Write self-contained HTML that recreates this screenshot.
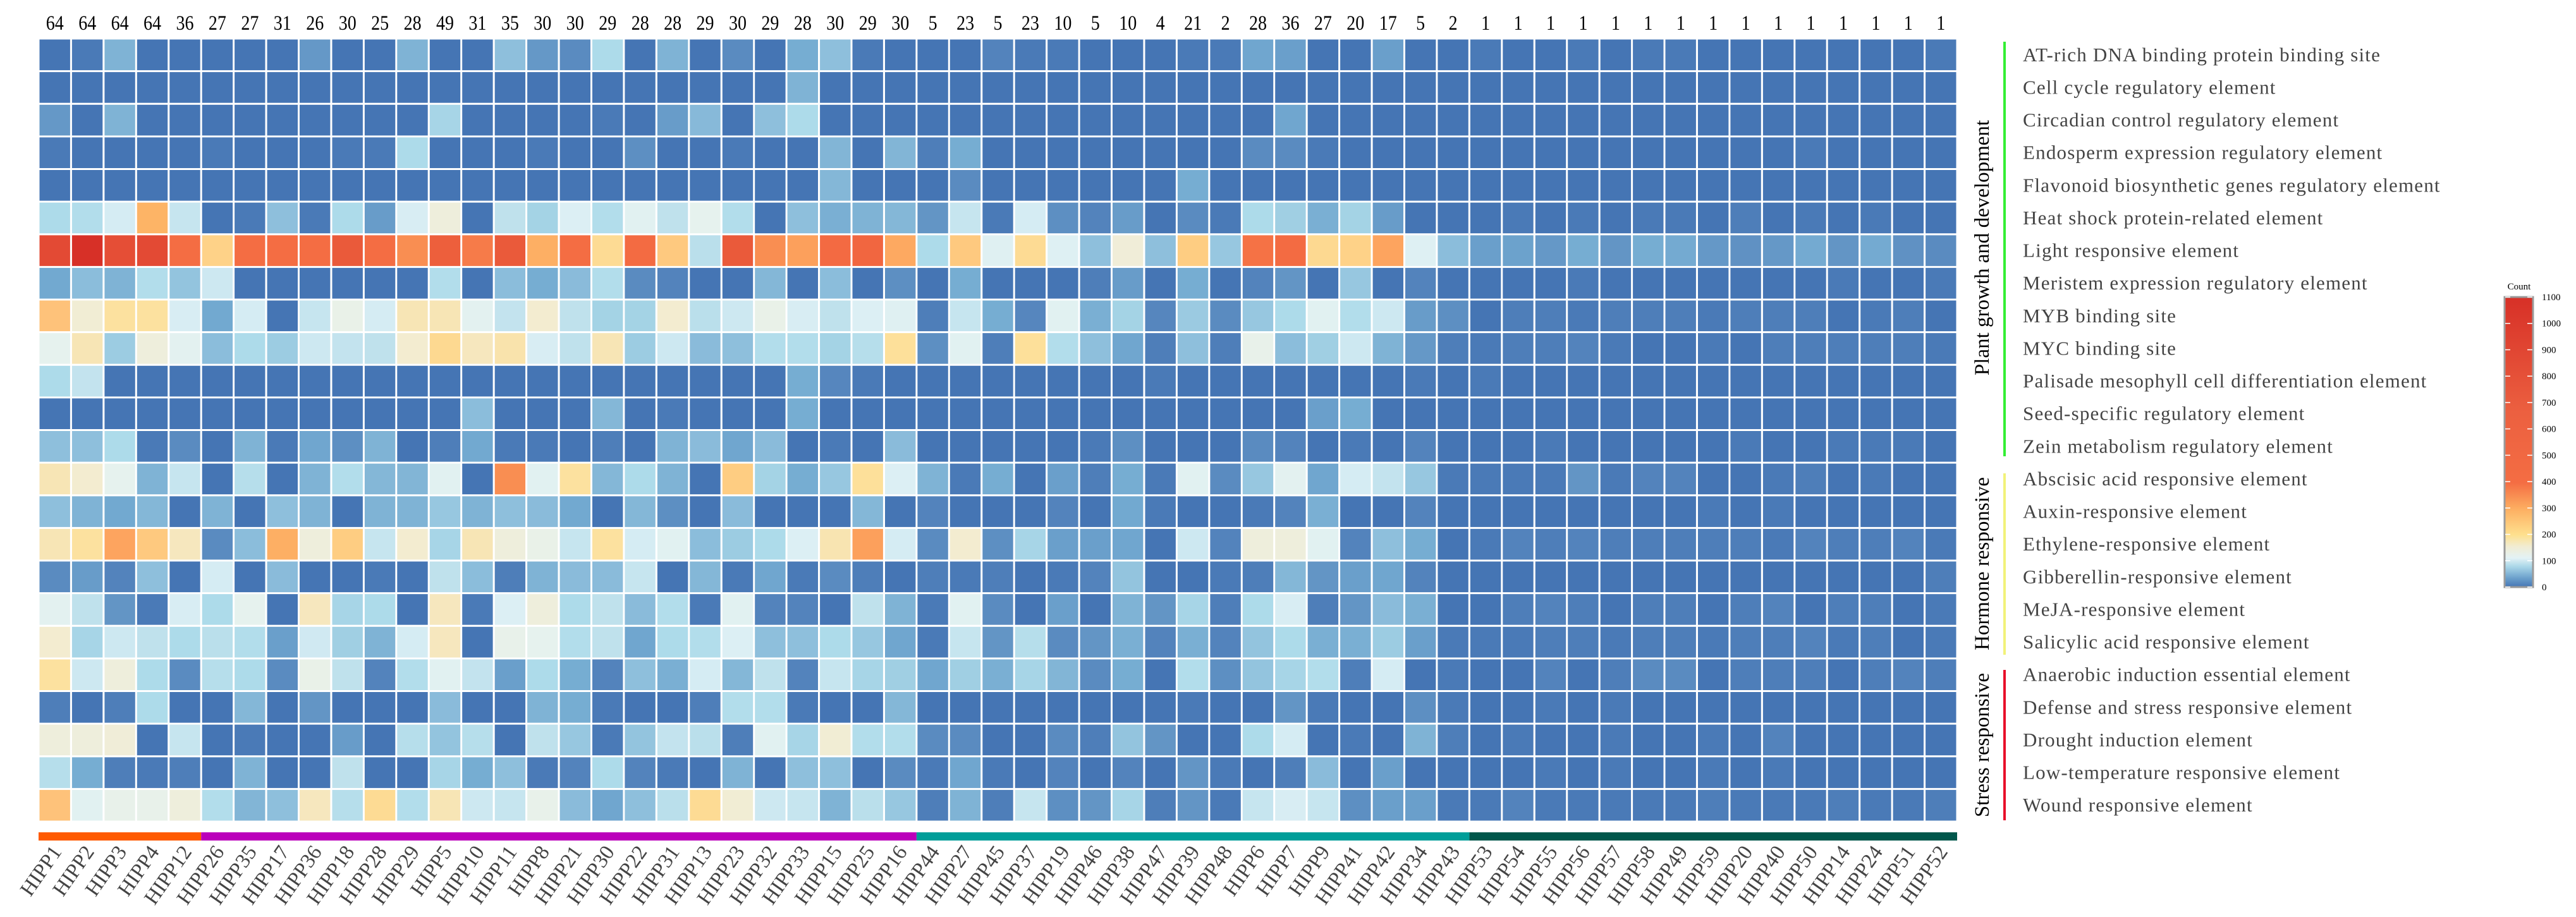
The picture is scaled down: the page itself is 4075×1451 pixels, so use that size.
<!DOCTYPE html>
<html><head><meta charset="utf-8"><title>HIPP cis-element heatmap</title>
<style>
html,body{margin:0;padding:0;background:#fff;}
svg{display:block;}
text{font-family:"Liberation Serif",serif;}
</style></head>
<body>
<svg id="chart" width="4075" height="1451" viewBox="0 0 4075 1451" xmlns="http://www.w3.org/2000/svg">
<defs>
<linearGradient id="cbGrad" x1="0" y1="1" x2="0" y2="0">
<stop offset="0" stop-color="#4575b4"/>
<stop offset="0.03" stop-color="#6a9fcb"/>
<stop offset="0.07" stop-color="#a9d6e8"/>
<stop offset="0.1" stop-color="#e3f2f6"/>
<stop offset="0.14" stop-color="#f1ecd2"/>
<stop offset="0.18" stop-color="#fee08e"/>
<stop offset="0.27" stop-color="#fdae61"/>
<stop offset="0.36" stop-color="#f46d43"/>
<stop offset="0.6" stop-color="#ec6040"/>
<stop offset="1" stop-color="#d73027"/>
</linearGradient>
</defs>
<g id="cells"></g>
<g id="topnums"></g>
<g id="xlabels"></g>
<g id="groupbars"></g>
<g id="ylabels"></g>
<g>
<rect x="3169" y="66" width="4" height="656" fill="#33ee33"/>
<rect x="3169" y="749" width="4" height="287" fill="#f2f27a"/>
<rect x="3169" y="1060" width="4" height="238" fill="#e8102a"/>
<text transform="translate(3146,392) rotate(-90)" text-anchor="middle" font-size="33" fill="#000">Plant growth and development</text>
<text transform="translate(3146,892) rotate(-90)" text-anchor="middle" font-size="33" fill="#000">Hormone responsive</text>
<text transform="translate(3146,1179) rotate(-90)" text-anchor="middle" font-size="33" fill="#000">Stress responsive</text>
</g>
<g id="colorbar">
<text x="3985" y="458" text-anchor="middle" font-size="15" fill="#000">Count</text>
<rect x="3962" y="470" width="45" height="459" fill="url(#cbGrad)" stroke="#9a9a9a" stroke-width="3"/>
</g>
</svg>
<script>
const columns = ["HIPP1","HIPP2","HIPP3","HIPP4","HIPP12","HIPP26","HIPP35","HIPP17","HIPP36","HIPP18","HIPP28","HIPP29","HIPP5","HIPP10","HIPP11","HIPP8","HIPP21","HIPP30","HIPP22","HIPP31","HIPP13","HIPP23","HIPP32","HIPP33","HIPP15","HIPP25","HIPP16","HIPP44","HIPP27","HIPP45","HIPP37","HIPP19","HIPP46","HIPP38","HIPP47","HIPP39","HIPP48","HIPP6","HIPP7","HIPP9","HIPP41","HIPP42","HIPP34","HIPP43","HIPP53","HIPP54","HIPP55","HIPP56","HIPP57","HIPP58","HIPP49","HIPP59","HIPP20","HIPP40","HIPP50","HIPP14","HIPP24","HIPP51","HIPP52"];
const columnTotals = [64,64,64,64,36,27,27,31,26,30,25,28,49,31,35,30,30,29,28,28,29,30,29,28,30,29,30,5,23,5,23,10,5,10,4,21,2,28,36,27,20,17,5,2,1,1,1,1,1,1,1,1,1,1,1,1,1,1,1];
const rowLabels = ["AT-rich DNA binding protein binding site","Cell cycle regulatory element","Circadian control regulatory element","Endosperm expression regulatory element","Flavonoid biosynthetic genes  regulatory element","Heat shock protein-related element","Light responsive element","Meristem expression regulatory element","MYB binding site","MYC binding site","Palisade mesophyll cell differentiation element","Seed-specific regulatory element","Zein metabolism regulatory element","Abscisic acid responsive element","Auxin-responsive element","Ethylene-responsive element","Gibberellin-responsive element","MeJA-responsive element","Salicylic acid responsive element","Anaerobic induction essential element","Defense and stress responsive element","Drought induction element","Low-temperature responsive element","Wound responsive element"];
const columnGroups = [5,22,17,15];
const columnGroupColors = ["#ff5a00","#bb00bb","#009e99","#00574b"];
const legendTicks = [0,100,200,300,400,500,600,700,800,900,1000,1100];
const rowValues = [
[0,10,55,0,0,0,0,0,35,0,0,55,0,0,65,35,25,85,0,55,0,25,0,50,65,10,0,0,0,20,10,10,0,0,0,10,10,45,40,0,0,40,0,0,10,0,0,10,0,10,10,0,0,0,0,0,0,0,10],
[0,0,0,0,0,0,0,0,0,0,0,0,0,0,0,0,0,0,0,0,0,0,0,55,0,0,0,0,0,0,0,0,0,0,0,0,0,0,0,0,0,0,0,0,0,0,0,0,0,0,0,0,0,0,0,0,0,0,0],
[35,0,55,0,0,0,0,0,0,0,0,0,80,0,0,0,0,10,0,38,60,0,65,85,0,0,0,0,0,0,0,0,0,0,0,0,0,0,45,0,0,0,0,0,0,0,0,0,0,0,0,0,0,0,0,0,0,0,0],
[10,0,0,0,0,10,0,0,0,10,10,85,0,0,0,10,0,0,28,0,0,10,0,0,57,0,57,15,50,0,0,0,0,0,0,0,0,25,25,10,0,0,0,0,0,0,0,0,0,0,0,0,0,0,10,0,0,0,0],
[0,0,0,0,0,0,0,0,0,0,0,0,0,0,0,0,0,0,0,0,0,0,0,0,58,0,0,0,25,0,0,0,0,0,0,50,0,0,0,0,0,0,0,0,0,0,0,0,0,0,0,0,0,0,0,0,0,0,0],
[85,88,110,300,100,0,10,65,10,85,38,112,140,0,95,78,115,88,120,95,125,88,0,65,52,55,58,33,100,10,110,28,20,38,0,25,10,85,75,52,78,38,0,0,0,10,0,10,0,10,10,0,15,0,10,0,10,0,0],
[850,1050,800,850,450,230,450,450,450,650,450,380,600,420,650,310,450,210,470,250,92,650,380,340,480,520,320,85,250,118,210,117,65,145,65,240,70,440,470,215,230,330,117,63,40,42,35,50,33,50,48,35,30,35,48,33,48,30,25],
[47,63,55,88,68,105,0,0,0,0,0,0,88,0,63,50,62,88,25,20,0,0,58,0,63,0,28,0,50,0,0,0,15,38,0,50,0,20,33,0,70,0,20,0,0,0,0,10,0,0,0,0,0,0,0,10,0,0,10],
[265,150,195,195,112,47,110,0,100,130,110,170,170,122,98,155,95,78,78,155,92,105,130,112,95,115,118,15,100,50,22,120,52,78,22,72,25,70,85,120,88,105,38,28,0,15,15,10,15,15,15,10,15,15,15,0,10,15,0],
[125,170,73,140,122,63,85,73,105,98,95,155,215,165,180,112,95,170,73,105,62,65,88,88,78,90,200,28,120,15,200,88,65,45,15,65,15,128,63,75,105,55,35,15,10,15,15,20,10,0,0,10,0,15,15,15,15,15,10],
[85,98,0,0,0,0,0,0,0,0,0,0,0,0,0,0,0,0,0,0,0,0,0,50,22,10,0,0,0,0,0,0,0,0,10,0,0,0,0,0,0,0,10,0,10,0,0,0,0,0,0,0,0,0,0,0,0,0,0],
[0,0,0,0,0,0,0,0,0,0,0,0,0,63,0,0,0,58,0,10,0,0,0,50,0,0,0,0,0,0,0,0,0,0,0,0,0,0,0,40,50,0,0,0,0,0,0,0,0,0,0,0,0,0,0,0,0,0,0],
[65,65,85,10,25,0,55,10,45,28,55,0,15,47,10,10,0,15,0,55,62,45,62,0,10,0,62,0,0,0,0,0,10,28,0,0,0,25,20,0,10,0,20,0,0,0,10,0,0,0,0,0,10,0,0,10,10,10,0],
[170,155,125,55,100,0,90,0,55,88,58,57,120,0,380,120,195,58,85,55,0,240,78,50,70,200,115,55,10,50,0,40,15,50,10,120,25,70,122,45,110,98,70,10,10,10,10,33,10,20,20,0,0,10,15,0,10,0,0],
[65,55,47,58,0,55,0,65,55,0,55,55,70,55,65,62,47,0,58,28,0,62,0,0,0,58,0,20,0,0,0,20,0,47,10,0,0,10,20,52,0,0,20,0,0,0,0,0,0,0,0,10,0,10,0,0,0,0,0],
[170,195,330,250,165,25,63,310,140,240,100,155,80,170,140,130,100,195,110,120,63,73,85,115,175,340,110,25,155,28,80,40,40,45,0,105,20,140,140,120,20,65,50,0,10,20,15,20,15,15,15,15,15,10,20,15,15,20,10],
[25,38,20,65,0,110,0,62,0,0,10,0,95,63,15,55,62,62,100,0,58,10,45,10,25,15,0,15,10,15,0,10,20,68,0,0,10,15,58,33,40,45,20,0,0,0,0,0,0,0,0,0,0,0,0,0,0,0,15],
[122,95,33,10,112,85,125,0,165,80,85,0,165,10,115,140,85,95,62,88,10,120,20,20,0,95,55,10,120,25,0,40,0,55,33,80,15,85,112,15,33,62,52,0,0,15,20,15,0,15,15,0,15,20,0,15,15,0,10],
[155,80,105,95,85,92,88,40,107,75,55,110,165,0,128,125,88,95,45,85,88,115,65,65,85,70,45,10,100,33,90,25,33,52,20,52,20,68,85,52,52,73,40,10,10,10,15,15,10,15,15,10,15,15,20,10,15,0,10],
[195,105,140,85,25,90,85,25,130,95,20,88,120,98,40,85,50,20,65,52,110,58,95,20,100,80,75,45,75,52,80,57,25,50,0,88,28,68,80,88,15,110,0,10,0,0,20,0,15,25,25,0,15,15,15,0,15,20,15],
[15,0,15,85,0,0,58,0,33,0,0,0,62,0,0,55,50,10,0,0,15,88,88,10,0,0,58,0,0,0,0,0,0,0,0,10,0,0,33,10,0,0,28,10,0,0,10,0,10,0,0,0,0,0,0,0,0,0,0],
[140,140,145,0,100,0,10,0,0,38,0,90,68,90,0,95,70,10,68,98,92,15,120,80,150,88,88,25,25,0,0,25,15,68,33,0,0,85,110,0,10,0,55,15,0,10,0,0,10,0,0,10,0,20,0,0,0,0,0],
[90,50,15,10,15,0,55,0,0,95,0,0,80,50,65,10,20,85,20,10,0,55,0,65,65,0,25,10,45,10,0,20,0,20,0,33,10,0,15,62,0,40,0,0,0,0,10,0,10,0,0,10,0,10,0,0,0,0,0],
[265,120,128,128,140,88,57,65,165,90,210,88,170,105,100,128,62,45,65,92,210,150,105,100,55,92,70,15,55,15,100,28,33,80,15,33,10,100,112,100,28,40,40,10,10,20,10,10,10,10,10,15,10,10,10,15,10,10,15]
];

const stopVals = [0,10,15,20,25,33,40,50,55,65,75,85,95,105,115,125,140,155,170,200,240,265,300,330,380,450,650,850,1050,1100];
const stopCols = ["#4575b4","#4a7ab7","#4e7eb9","#5383bc","#5a8bc0","#6395c5","#6a9fcb","#76add2","#7fb3d5","#8ebfdc","#a0cfe3","#addbea","#bfe1ec","#cde8f1","#dceff4","#e6f2ee","#eeeedc","#f3ecd0","#f7e5b5","#fde09a","#fecd82","#fec27a","#fdb466","#fda45f","#f98e52","#f46d43","#ea5a3a","#e34a34","#d73027","#d73027"];

function hex2rgb(h){return [parseInt(h.slice(1,3),16),parseInt(h.slice(3,5),16),parseInt(h.slice(5,7),16)];}
function colorScale(v){
  if(v<=stopVals[0]) return stopCols[0];
  for(let i=1;i<stopVals.length;i++){
    if(v<=stopVals[i]){
      const t=(v-stopVals[i-1])/(stopVals[i]-stopVals[i-1]);
      const a=hex2rgb(stopCols[i-1]),b=hex2rgb(stopCols[i]);
      return "rgb("+a.map((c,k)=>Math.round(c+(b[k]-c)*t)).join(",")+")";
    }
  }
  return stopCols[stopCols.length-1];
}

const NS="http://www.w3.org/2000/svg";
const X0=61, X1=3096, Y0=61, Y1=1300;
const colW=(X1-X0)/columns.length, rowH=(Y1-Y0)/rowLabels.length, GAP=3;
function xScale(i){return X0+i*colW;}
function yScale(j){return Y0+j*rowH;}
function mk(tag,attrs,parent){const e=document.createElementNS(NS,tag);for(const k in attrs)e.setAttribute(k,attrs[k]);parent.appendChild(e);return e;}

const cellsG=document.getElementById('cells');
rowValues.forEach((row,j)=>{
  row.forEach((v,i)=>{
    const r=mk('rect',{x:(xScale(i)+GAP/2).toFixed(1),y:(yScale(j)+GAP/2).toFixed(1),width:(colW-GAP).toFixed(1),height:(rowH-GAP).toFixed(1),fill:colorScale(v)},cellsG);
    
    
  });
});

const topG=document.getElementById('topnums');
columnTotals.forEach((n,i)=>{
  const cx=xScale(i)+colW/2;
  const t=mk('text',{x:0,y:0,transform:'translate('+cx.toFixed(1)+',47) scale(0.85,1)','text-anchor':'middle','font-size':33,fill:'#000'},topG);
  
  
  t.textContent=n;
});

const xl=document.getElementById('xlabels');
columns.forEach((c,i)=>{
  const cx=xScale(i)+colW/2+12;
  const t=mk('text',{transform:'translate('+cx.toFixed(1)+',1348) rotate(-55)','text-anchor':'end','font-size':33,fill:'#444'},xl);
  
  
  t.textContent=c;
});

const gb=document.getElementById('groupbars');
let start=0;
columnGroups.forEach((n,g)=>{
  const r=mk('rect',{x:xScale(start).toFixed(1),y:1317,width:(n*colW).toFixed(1),height:13,fill:columnGroupColors[g]},gb);
  
  
  start+=n;
});

const yl=document.getElementById('ylabels');
rowLabels.forEach((l,j)=>{
  const t=mk('text',{x:3200,y:(yScale(j)+rowH/2+10).toFixed(1),'font-size':31,'letter-spacing':1.2,fill:'#444','xml:space':'preserve'},yl);
  
  
  t.textContent=l;
});

const cb=document.getElementById('colorbar');
const CB_TOP=470, CB_BOT=929;
function cbY(v){return CB_BOT-(v/1100)*(CB_BOT-CB_TOP);}
legendTicks.forEach(v=>{
  const y=cbY(v);
  const a=mk('line',{x1:3963,x2:3971,y1:y,y2:y,stroke:'#fff','stroke-width':1.5},cb);
  
  
  const b=mk('line',{x1:3998,x2:4006,y1:y,y2:y,stroke:'#fff','stroke-width':1.5},cb);
  
  
  const t=mk('text',{x:4021,y:(y+5).toFixed(1),'font-size':15,fill:'#000'},cb);
  
  
  t.textContent=v;
});
</script>
</body></html>
